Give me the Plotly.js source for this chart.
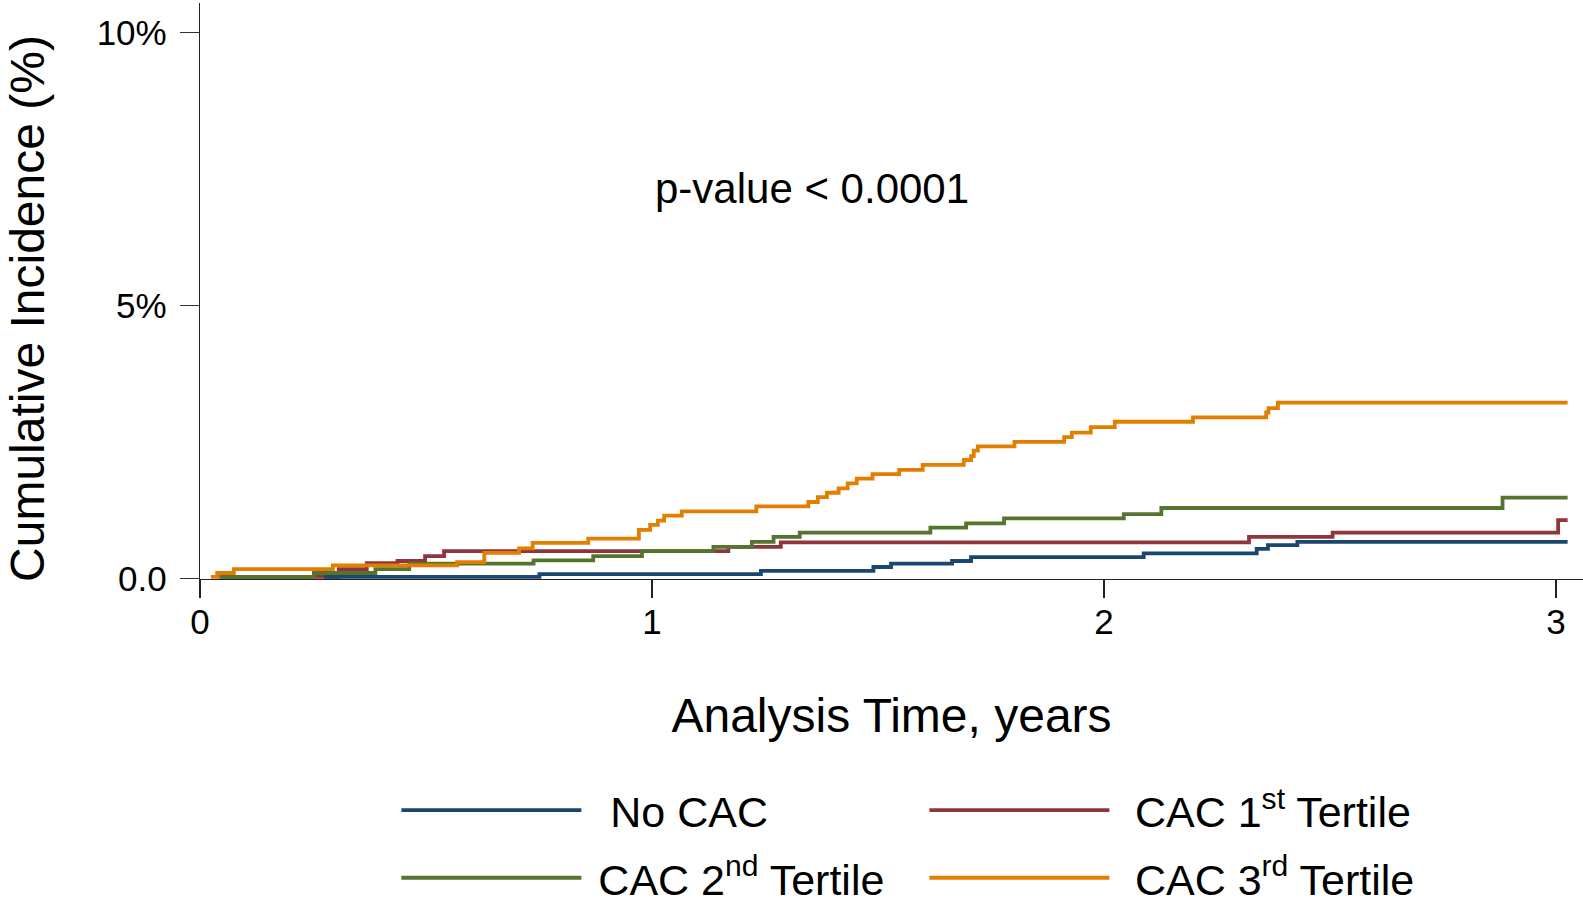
<!DOCTYPE html>
<html>
<head>
<meta charset="utf-8">
<script src="https://cdn.plot.ly/plotly-3.0.1.min.js"></script>
<style>
html,body{margin:0;padding:0;background:#ffffff;}
#chart{width:1583px;height:903px;}
</style>
</head>
<body>
<div id="chart"></div>
<script>
// ---- Data ----
const seriesNames = [
  '\u00a0\u00a0No CAC',
  '\u00a0\u2009CAC 1<sup>st</sup> Tertile',
  '\u00a0CAC 2<sup>nd</sup> Tertile',
  '\u00a0\u2009CAC 3<sup>rd</sup> Tertile'
];
const seriesColors = ['#1a476f', '#90353b', '#55752f', '#e37e00'];

// Analysis time (years) and cumulative incidence (%) at each step
const noCacTime = [0.275, 0.751, 1.241, 1.490, 1.529, 1.664, 1.706, 2.088, 2.338, 2.363, 2.428, 3.026];
const noCacInc  = [0.03, 0.08, 0.14, 0.21, 0.27, 0.32, 0.39, 0.46, 0.54, 0.61, 0.67, 0.67];

const t1Time = [0.043, 0.307, 0.369, 0.437, 0.498, 0.540, 1.169, 1.285, 2.321, 2.506, 3.005, 3.026];
const t1Inc  = [0.03, 0.17, 0.28, 0.32, 0.41, 0.50, 0.58, 0.66, 0.76, 0.84, 1.07, 1.07];

const t2Time = [0.043, 0.252, 0.388, 0.463, 0.738, 0.870, 0.978, 1.136, 1.221, 1.269, 1.327, 1.616, 1.695, 1.779, 2.044, 2.127, 2.882, 3.026];
const t2Inc  = [0.03, 0.10, 0.17, 0.27, 0.33, 0.41, 0.50, 0.58, 0.67, 0.76, 0.84, 0.93, 1.01, 1.10, 1.18, 1.29, 1.48, 1.48];

const t3Time = [0.024, 0.038, 0.075, 0.294, 0.569, 0.629, 0.706, 0.736, 0.859, 0.971, 0.996, 1.013, 1.027, 1.066, 1.231, 1.346, 1.367, 1.387, 1.413, 1.433, 1.453, 1.488, 1.547, 1.599, 1.690, 1.706, 1.712, 1.721, 1.802, 1.912, 1.929, 1.971, 2.024, 2.197, 2.359, 2.364, 2.385, 3.026];
const t3Inc  = [0.03, 0.10, 0.17, 0.24, 0.30, 0.47, 0.55, 0.65, 0.73, 0.89, 0.98, 1.06, 1.15, 1.23, 1.32, 1.40, 1.49, 1.57, 1.65, 1.74, 1.83, 1.91, 1.99, 2.08, 2.17, 2.24, 2.34, 2.42, 2.50, 2.59, 2.67, 2.77, 2.87, 2.95, 3.04, 3.12, 3.22, 3.22];

const xTickVals = [0, 1, 2, 3];
const xTickText = ['0', '1', '2', '3'];
const yTickVals = [0, 5, 10];
const yTickText = ['0.0', '5%', '10%'];

const xTitleText = 'Analysis Time, years';
const yTitleText = 'Cumulative Incidence (%)';
const pValueText = 'p-value < 0.0001';

// ---- Build traces (drawing order: 1st, none, 2nd, 3rd; legend order by rank) ----
const FONT = '"Liberation Sans", Arial, Helvetica, sans-serif';
function stepTrace(x, y, idx, rank, legendId) {
  return {
    type: 'scatter', mode: 'lines',
    x: x, y: y,
    name: seriesNames[idx],
    legend: legendId,
    legendrank: rank,
    line: {shape: 'hv', color: seriesColors[idx], width: 3.8},
    hoverinfo: 'skip'
  };
}
const traces = [
  stepTrace(t1Time, t1Inc, 1, 2, 'legend'),
  stepTrace(noCacTime, noCacInc, 0, 1, 'legend'),
  stepTrace(t2Time, t2Inc, 2, 3, 'legend2'),
  stepTrace(t3Time, t3Inc, 3, 4, 'legend2')
];

function legendRow(yPos) {
  return {
    orientation: 'h',
    xref: 'container', yref: 'container',
    x: 0.2504, xanchor: 'left',
    y: yPos, yanchor: 'top',
    font: {size: 43, family: FONT, color: '#000'},
    itemwidth: 180,
    entrywidth: 333, entrywidthmode: 'pixels',
    traceorder: 'normal',
    bgcolor: 'rgba(0,0,0,0)', borderwidth: 0,
    itemclick: false, itemdoubleclick: false
  };
}

const layout = {
  width: 1583, height: 903,
  paper_bgcolor: '#ffffff', plot_bgcolor: '#ffffff',
  margin: {l: 200, r: 0, t: 3, b: 324, pad: 0, autoexpand: false},
  font: {family: FONT, color: '#000000'},
  showlegend: true,
  xaxis: {
    range: [0, 3.06],
    tickmode: 'array', tickvals: xTickVals, ticktext: xTickText,
    ticks: 'outside', ticklen: 18, tickwidth: 1.3, tickcolor: '#222',
    ticklabelstandoff: -6,
    showline: true, linecolor: '#222', linewidth: 1.3,
    showgrid: false, zeroline: false,
    tickfont: {size: 35, family: FONT, color: '#000'},
    title: {text: xTitleText, font: {size: 48, family: FONT, color: '#000'}, standoff: 58},
    automargin: false, fixedrange: true
  },
  yaxis: {
    range: [-0.01, 10.54],
    tickmode: 'array', tickvals: yTickVals, ticktext: yTickText,
    ticks: 'outside', ticklen: 19, tickwidth: 1.3, tickcolor: '#333',
    ticklabelstandoff: 6,
    showline: true, linecolor: '#222', linewidth: 1.3,
    showgrid: false, zeroline: false,
    tickfont: {size: 35, family: FONT, color: '#000'},
    automargin: false, fixedrange: true
  },
  legend: legendRow(0.1410),
  legend2: legendRow(0.0661),
  annotations: [
    {
      xref: 'x', yref: 'y', x: 1.354, y: 7.15,
      text: pValueText, showarrow: false,
      xanchor: 'center', yanchor: 'middle',
      font: {size: 42, family: FONT, color: '#000'}
    },
    {
      xref: 'paper', yref: 'paper', x: -0.1244, y: 0.4705,
      text: yTitleText, showarrow: false, textangle: -90,
      xanchor: 'center', yanchor: 'middle',
      font: {size: 48, family: FONT, color: '#000'}
    }
  ]
};

Plotly.newPlot('chart', traces, layout, {staticPlot: true, displayModeBar: false});
</script>
</body>
</html>
